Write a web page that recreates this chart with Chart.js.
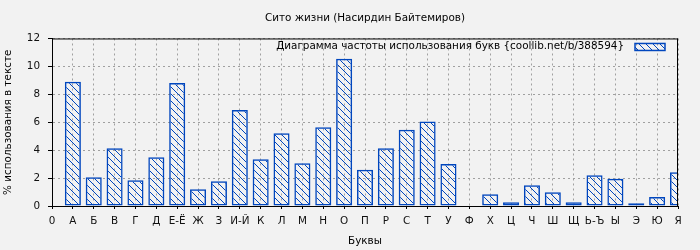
<!DOCTYPE html>
<html>
<head>
<meta charset="utf-8">
<script src="https://cdn.jsdelivr.net/npm/chart.js@4/dist/chart.umd.min.js"></script>
<style>
html,body{margin:0;padding:0;background:#f2f2f2;}
#wrap{width:700px;height:250px;}
</style>
</head>
<body>
<div id="wrap"><canvas id="c" width="700" height="250"></canvas></div>
<script>
const chartTitle = 'Сито жизни (Насирдин Байтемиров)';
const seriesName = 'Диаграмма частоты использования букв {coollib.net/b/388594}';
const xTitle = 'Буквы';
const yTitle = '% использования в тексте';
const categories = ['0','А','Б','В','Г','Д','Е-Ё','Ж','З','И-Й','К','Л','М','Н','О','П','Р','С','Т','У','Ф','Х','Ц','Ч','Ш','Щ','Ь-Ъ','Ы','Э','Ю','Я'];
const values = [null, 8.9, 2.06, 4.14, 1.85, 3.5, 8.81, 1.2, 1.77, 6.87, 3.35, 5.22, 3.07, 5.65, 10.54, 2.59, 4.14, 5.46, 6.06, 3.0, 0, 0.84, 0.26, 1.49, 0.98, 0.26, 2.2, 1.96, 0.19, 0.65, 2.42];
const yTicks = [0, 2, 4, 6, 8, 10, 12];

const BLUE = '#0046be';
const FONT = 'DejaVu Sans';
const FS = 10.4;

function makeHatch(p) {
  const cv = document.createElement('canvas');
  cv.width = p; cv.height = p;
  const g = cv.getContext('2d');
  g.strokeStyle = BLUE;
  g.lineWidth = 1;
  g.beginPath();
  g.moveTo(0, 0); g.lineTo(p, p);
  g.moveTo(-1, p - 1); g.lineTo(1, p + 1);
  g.moveTo(p - 1, -1); g.lineTo(p + 1, 1);
  g.stroke();
  return g.createPattern(cv, 'repeat');
}
const hatch = makeHatch(7);

const frameAndLegend = {
  id: 'frameAndLegend',
  afterDraw(chart) {
    const {ctx, chartArea: a} = chart;
    ctx.save();
    ctx.strokeStyle = '#000';
    ctx.lineWidth = 1;
    ctx.beginPath();
    ctx.moveTo(a.left, a.top + 0.5); ctx.lineTo(a.right, a.top + 0.5);
    ctx.moveTo(a.right - 0.5, a.top); ctx.lineTo(a.right - 0.5, a.bottom);
    ctx.stroke();
    // legend
    ctx.font = FS + 'px "' + FONT + '"';
    ctx.fillStyle = '#000';
    ctx.textAlign = 'right';
    ctx.textBaseline = 'middle';
    ctx.fillText(chart.data.datasets[0].label, a.right - 54, a.top + 8);
    const bx = a.right - 43, by = a.top + 5, bw = 30, bh = 7;
    ctx.fillStyle = hatch;
    ctx.fillRect(bx, by, bw, bh);
    ctx.strokeStyle = BLUE;
    ctx.lineWidth = 1.5;
    ctx.strokeRect(bx, by, bw, bh);
    ctx.restore();
  }
};

new Chart(document.getElementById('c'), {
  type: 'bar',
  data: {
    labels: categories,
    datasets: [{
      label: seriesName,
      data: values,
      backgroundColor: hatch,
      borderColor: BLUE,
      borderWidth: 1.5,
      borderSkipped: false,
      barPercentage: 0.77,
      categoryPercentage: 1
    }]
  },
  options: {
    responsive: false,
    animation: false,
    layout: {padding: {left: 0, top: 0, bottom: 0, right: 22}},
    plugins: {
      legend: {display: false},
      tooltip: {enabled: false},
      title: {
        display: true,
        text: chartTitle,
        fullSize: false,
        color: '#000',
        font: {family: FONT, size: FS, weight: 'normal'},
        padding: {top: 12, bottom: 14}
      }
    },
    scales: {
      x: {
        type: 'category',
        offset: false,
        grid: {offset: false, color: '#a0a0a0', lineWidth: 1, tickLength: 3, tickColor: '#000', tickWidth: 1},
        border: {display: true, color: '#000', width: 1, dash: [2, 3]},
        ticks: {color: '#111', font: {family: FONT, size: FS}, padding: 6, autoSkip: false, maxRotation: 0},
        title: {display: true, text: xTitle, color: '#000', font: {family: FONT, size: FS}, padding: {top: 0, bottom: 2}},
        afterFit(s) { s.height = 44; }
      },
      y: {
        min: yTicks[0],
        max: yTicks[yTicks.length - 1],
        afterBuildTicks(s) { s.ticks = yTicks.map(v => ({value: v})); },
        grid: {color: '#a0a0a0', lineWidth: 1, tickLength: 4, tickColor: '#000', tickWidth: 1},
        border: {display: true, color: '#000', width: 1, dash: [2, 3]},
        ticks: {color: '#111', font: {family: FONT, size: FS}, padding: 8},
        title: {display: true, text: yTitle, color: '#000', font: {family: FONT, size: FS}, padding: {top: 2, bottom: 0}},
        afterFit(s) { s.width = 52; }
      }
    }
  },
  plugins: [frameAndLegend]
});
</script>
</body>
</html>
